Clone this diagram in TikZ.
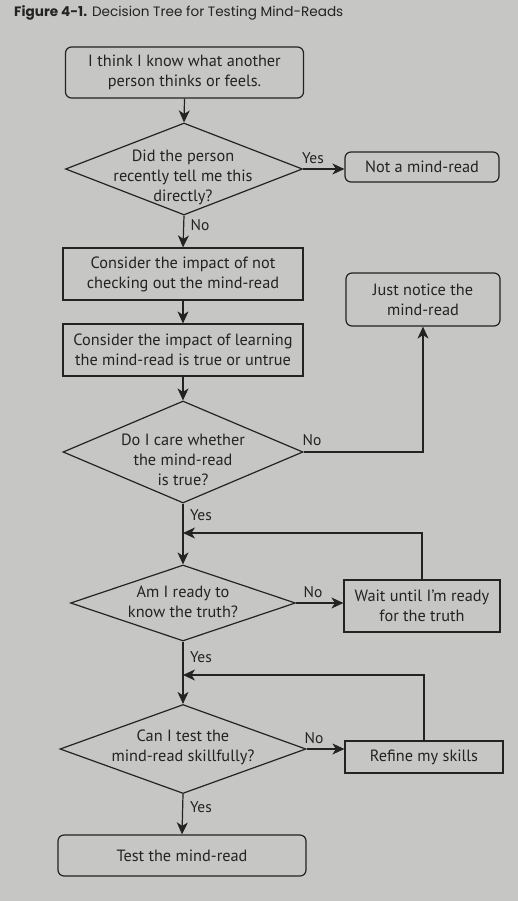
\documentclass[tikz,border=0pt]{standalone}
\usepackage{fontspec}
\setmainfont{PT Sans}
\newfontfamily\titlefont{Poppins}
\usetikzlibrary{arrows.meta,shapes.geometric}
\definecolor{bg}{RGB}{198,198,196}
\definecolor{ink}{RGB}{35,35,35}
\begin{document}
\begin{tikzpicture}[x=1pt,y=-1pt,
  every node/.style={text=ink},
  txt/.style={font=\fontsize{16.3}{20}\selectfont, align=center},
  rbox/.style={draw=ink, line width=1.2pt, rounded corners=6pt, inner sep=0pt},
  sbox/.style={draw=ink, line width=1.2pt, inner sep=0pt},
  dia/.style={draw=ink, line width=1.2pt, diamond, inner sep=0pt},
  lab/.style={font=\fontsize{15.5}{17}\selectfont, inner sep=0pt},
  arr/.style={draw=ink, line width=1.2pt, -{Stealth[length=12pt,width=11pt,inset=3.5pt]}},
  ln/.style={draw=ink, line width=1.2pt}]
\path[fill=bg] (0,0) rectangle (518,901);
\useasboundingbox (0,0) rectangle (518,901);

\node[anchor=west, inner sep=0pt, font=\titlefont\fontsize{13.6}{15}\selectfont] (title) at (14,13) {\textbf{Figure 4-1.} Decision Tree for Testing Mind-Reads};

\node[rbox, txt, minimum width=238pt, minimum height=51pt] (b1) at (184.5,72.5) {I think I know what another\\person thinks or feels.};

\node[dia, minimum width=237pt, minimum height=92pt] (d1) at (184,169) {};
\node[txt, inner sep=0pt] (d1t) at (183,177) {Did the person\\recently tell me this\\directly?};

\node[rbox, txt, minimum width=154pt, minimum height=30pt] (nm) at (422,167) {Not a mind-read};

\node[sbox, txt, minimum width=240pt, minimum height=52pt] (b2) at (183,274) {Consider the impact of not\\checking out the mind-read};
\node[sbox, txt, minimum width=240pt, minimum height=52pt] (b3) at (183,350) {Consider the impact of learning\\the mind-read is true or untrue};

\node[rbox, txt, minimum width=154pt, minimum height=53pt] (jn) at (423,299.5) {Just notice the\\mind-read};

\node[dia, minimum width=240pt, minimum height=102pt] (d2) at (183,452) {};
\node[txt, inner sep=0pt] (d2t) at (183,460) {Do I care whether\\the mind-read\\is true?};

\node[dia, minimum width=225pt, minimum height=76pt] (d3) at (183,603) {};
\node[txt, inner sep=0pt] (d3t) at (183,602) {Am I ready to\\know the truth?};

\node[sbox, txt, minimum width=156pt, minimum height=52pt] (wt) at (422,606) {Wait until I'm ready\\for the truth};

\node[dia, minimum width=246pt, minimum height=89pt] (d4) at (183,749) {};
\node[txt, inner sep=0pt] (d4t) at (183,747) {Can I test the\\mind-read skillfully?};

\node[sbox, txt, minimum width=158pt, minimum height=32pt] (rf) at (424,757) {Refine my skills};

\node[rbox, txt, minimum width=248pt, minimum height=41pt] (b4) at (182,855.5) {Test the mind-read};

\coordinate (j1) at (183,533);
\coordinate (j2) at (183,675);

% connectors
\draw[arr] (b1.south) -- (d1.north);
\draw[arr] (d1.east) -- (d1.east -| nm.west);
\draw[arr] (d1.south) -- (b2.north);
\draw[arr] (b2.south) -- (b3.north);
\draw[arr] (b3.south) -- (d2.north);
\draw[arr] (d2.east) -| (jn.south);
\draw[arr] (d2.south) -- (d3.north);
\draw[arr] (wt.north) |- (j1);
\draw[arr] (d3.east) -- (d3.east -| wt.west);
\draw[arr] (d3.south) -- (d4.north);
\draw[arr] (rf.north) |- (j2);
\draw[arr] (d4.east) -- (d4.east -| rf.west);
\draw[arr] (d4.south) -- (b4.north);

% labels
\node[lab] (l1) at (313,158) {Yes};
\node[lab] (l2) at (200,225) {No};
\node[lab] (l3) at (312,440) {No};
\node[lab] (l4) at (201,515) {Yes};
\node[lab] (l5) at (313,592) {No};
\node[lab] (l6) at (201,657) {Yes};
\node[lab] (l7) at (314,738) {No};
\node[lab] (l8) at (201,807) {Yes};
\end{tikzpicture}
\end{document}
